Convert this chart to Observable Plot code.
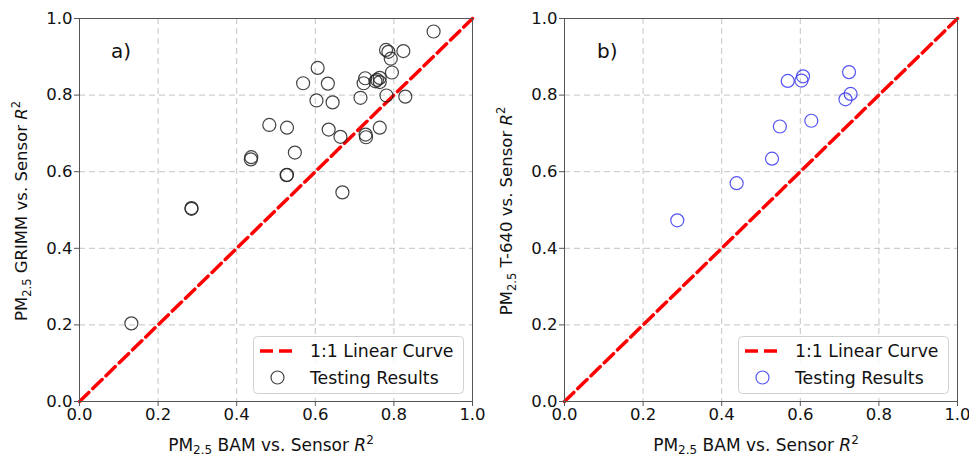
<!DOCTYPE html>
<html><head><meta charset="utf-8">
<script src="https://cdn.jsdelivr.net/npm/d3@7"></script>
<script src="https://cdn.jsdelivr.net/npm/@observablehq/plot@0.6"></script>
<style>
body{margin:0;background:#fff;font-family:"DejaVu Sans",sans-serif}
#wrap{position:relative;width:969px;height:457px;overflow:hidden}
.panel{position:absolute;top:0}
</style></head><body><div id="wrap"></div>
<script>
// Panel a: BAM vs sensor R^2 (x) and GRIMM vs sensor R^2 (y)
const grimmX = [0.132,0.285,0.285,0.527,0.436,0.901,0.780,0.786,0.824,0.792,0.606,0.795,0.569,0.632,0.727,0.723,0.764,0.753,0.764,0.757,0.603,0.644,0.715,0.781,0.829,0.483,0.528,0.634,0.764,0.664,0.728,0.729,0.437,0.548,0.528,0.669];
const grimmY = [0.204,0.503,0.505,0.591,0.632,0.966,0.918,0.913,0.915,0.895,0.871,0.859,0.831,0.830,0.844,0.831,0.845,0.836,0.834,0.840,0.786,0.781,0.793,0.799,0.796,0.722,0.715,0.710,0.715,0.691,0.697,0.690,0.638,0.650,0.592,0.546];
// Panel b: BAM vs sensor R^2 (x) and T-640 vs sensor R^2 (y)
const t640X = [0.287,0.438,0.528,0.548,0.628,0.568,0.603,0.607,0.724,0.728,0.715];
const t640Y = [0.473,0.570,0.634,0.718,0.733,0.837,0.838,0.849,0.860,0.803,0.789];
// 1:1 reference line
const oneToOne = [0, 1];
const tickValues = [0, 0.2, 0.4, 0.6, 0.8, 1.0];
const gridValues = [0.2, 0.4, 0.6, 0.8];
const legendLabels = ["1:1 Linear Curve", "Testing Results"];

const wrap = document.getElementById("wrap");

function makePanel(o) {
  const pts = o.xs.map((x, i) => ({x, y: o.ys[i]}));
  const diag = oneToOne.map(v => ({x: v, y: v}));
  const plot = Plot.plot({
    width: o.width, height: 457,
    marginLeft: 79, marginRight: o.width - 79 - 393, marginTop: 18, marginBottom: 56,
    style: {fontFamily: "DejaVu Sans, sans-serif", fontSize: "16.5px", background: "transparent", overflow: "visible"},
    x: {domain: [0, 1]},
    y: {domain: [0, 1]},
    marks: [
      Plot.gridX(gridValues, {stroke: "#c4c4c4", strokeOpacity: 1, strokeDasharray: "6,4", strokeWidth: 1}),
      Plot.gridY(gridValues, {stroke: "#c4c4c4", strokeOpacity: 1, strokeDasharray: "6,4", strokeWidth: 1}),
      Plot.line(diag, {x: "x", y: "y", stroke: "#ff0000", strokeWidth: 3.5, strokeDasharray: "13,5.5"}),
      Plot.dot(pts, {x: "x", y: "y", r: 6.5, stroke: o.color, strokeOpacity: o.opacity, strokeWidth: 1.2, fill: "none"}),
      Plot.frame({stroke: "#555", strokeWidth: 1}),
      Plot.axisX(tickValues, {tickSize: 5, tickPadding: 2, tickFormat: d => d.toFixed(1), fontSize: 16.5, label: null, stroke: "#555", fill: "#111"}),
      Plot.axisY(tickValues, {tickSize: 5, tickPadding: 2, tickFormat: d => d.toFixed(1), fontSize: 16.5, label: null, stroke: "#555", fill: "#111"})
    ]
  });
  const div = document.createElement("div");
  div.className = "panel";
  div.style.left = o.left + "px";
  div.appendChild(plot);
  wrap.appendChild(div);

  const svg = d3.select(plot);
  const ff = "DejaVu Sans, sans-serif";
  // y label
  const yl = svg.append("text").attr("transform", `translate(${o.ylx},211) rotate(-90)`)
    .attr("text-anchor", "middle").attr("font-size", 16.5).attr("fill", "#111").attr("font-family", ff);
  yl.append("tspan").text("PM");
  yl.append("tspan").attr("font-size", 11.5).attr("dy", 4).text("2.5");
  yl.append("tspan").attr("dy", -4).text(" " + o.yname + " vs. Sensor ");
  yl.append("tspan").attr("font-style", "italic").text("R");
  yl.append("tspan").attr("font-size", 11.5).attr("dy", -7).text("2");
  // x label
  const xl = svg.append("text").attr("transform", `translate(271,451)`)
    .attr("text-anchor", "middle").attr("font-size", 17).attr("fill", "#111").attr("font-family", ff);
  xl.append("tspan").text("PM");
  xl.append("tspan").attr("font-size", 12).attr("dy", 3).text("2.5");
  xl.append("tspan").attr("dy", -3).text(" BAM vs. Sensor ");
  xl.append("tspan").attr("font-style", "italic").text("R");
  xl.append("tspan").attr("font-size", 12).attr("dy", -7).text("2");
  // panel letter
  svg.append("text").attr("x", o.letterX).attr("y", 58).attr("font-size", 20).attr("fill", "#111")
    .attr("text-anchor", "start").attr("font-family", ff).text(o.letter);
  // legend
  const g = svg.append("g").attr("text-anchor", "start");
  g.append("rect").attr("x", 253.5).attr("y", 336.5).attr("width", 210).attr("height", 57).attr("rx", 4)
    .attr("fill", "#fff").attr("fill-opacity", 0.85).attr("stroke", "#d0d0d0");
  g.append("line").attr("x1", 260).attr("x2", 293).attr("y1", 351).attr("y2", 351)
    .attr("stroke", "#ff0000").attr("stroke-width", 3.5).attr("stroke-dasharray", "13,6");
  g.append("circle").attr("cx", 277.5).attr("cy", 377.5).attr("r", 6.5).attr("fill", "none")
    .attr("stroke", o.color).attr("stroke-opacity", o.opacity).attr("stroke-width", 1.2);
  g.append("text").attr("x", 310).attr("y", 357).attr("font-size", 17.3).attr("fill", "#111").attr("text-anchor", "start").attr("font-family", ff).text(legendLabels[0]);
  g.append("text").attr("x", 310).attr("y", 383.5).attr("font-size", 17.3).attr("fill", "#111").attr("text-anchor", "start").attr("font-family", ff).text(legendLabels[1]);
}

makePanel({xs: grimmX, ys: grimmY, color: "#222", opacity: 0.85, width: 485, left: 0, ylx: 27, yname: "GRIMM", letter: "a)", letterX: 111});
makePanel({xs: t640X, ys: t640Y, color: "#2a2af0", opacity: 0.8, width: 484, left: 485, ylx: 27, yname: "T-640", letter: "b)", letterX: 112});
</script></body></html>
